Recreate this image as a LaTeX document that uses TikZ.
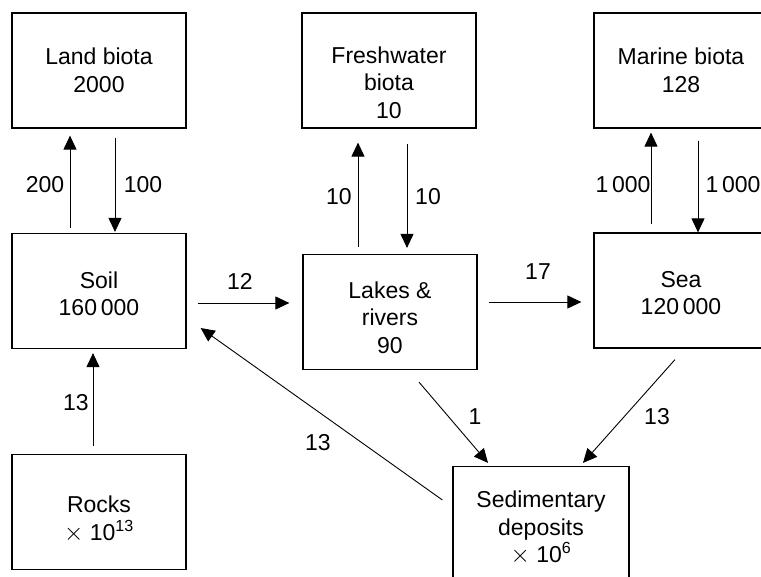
\documentclass[tikz,border=0pt]{standalone}
\usepackage{fontspec}
\setmainfont{Liberation Sans}
\usetikzlibrary{arrows.meta}

\begin{document}
\begin{tikzpicture}[x=1pt,y=-1pt,
		box/.style={draw, line width=1.2pt, minimum width=174pt, minimum height=115pt,
			inner sep=0pt, align=center, font=\fontsize{23}{27.5}\selectfont},
		flow/.style={line width=0.9pt, -{Triangle[length=14pt,width=13pt]}},
		lbl/.style={font=\fontsize{23}{27.5}\selectfont}]
			\clip (0,0) rectangle (761,577);

			% reservoirs
			\node[box] (land) at (99,70.5) {Land biota\\2000};
			\node[box, text height=96pt] (fresh) at (389,70.5) {Freshwater\\biota\\10};
			\node[box] (marine) at (681,70.5) {Marine biota\\128};
			\node[box, text height=50pt] (soil) at (99,291) {Soil\\160\,000};
			\node[box, text height=83pt] (lakes) at (390,312) {Lakes \&\\rivers\\90};
			\node[box, text height=49pt] (sea) at (681,290.5) {Sea\\120\,000};
			\node[box, text height=59pt] (rocks) at (99,512) {Rocks\\$\times$ 10\textsuperscript{13}};
			\node[box, text height=80pt, minimum width=176pt] (sed) at (541,524) {Sedimentary\\deposits\\$\times$ 10\textsuperscript{6}};

			% biota exchange
			\draw[flow, shorten <=5pt, shorten >=7pt] ([xshift=-29pt]soil.north) -- ([xshift=-29pt]land.south);
			\draw[flow, shorten <=9pt, shorten >=1pt] ([xshift=16pt]land.south) -- ([xshift=16pt]soil.north);
			\draw[flow, shorten <=7pt, shorten >=14pt] ([xshift=-32pt]lakes.north) -- ([xshift=-31pt]fresh.south);
			\draw[flow, shorten <=15pt, shorten >=6pt] ([xshift=18pt]fresh.south) -- ([xshift=17pt]lakes.north);
			\draw[flow, shorten <=8pt, shorten >=4pt] ([xshift=-30pt]sea.north) -- ([xshift=-30pt]marine.south);
			\draw[flow, shorten <=12pt] ([xshift=17pt]marine.south) -- ([xshift=17pt]sea.north);

			% run-off
			\draw[flow, shorten <=11pt, shorten >=13pt] ([yshift=-12pt]soil.east) -- ([yshift=9pt]lakes.west);
			\draw[flow, shorten <=11pt, shorten >=12pt] ([yshift=10pt]lakes.east) -- ([yshift=-11.5pt]sea.west);
			\draw[flow, shorten <=8pt, shorten >=4pt] ([xshift=-6pt]rocks.north) -- ([xshift=-6pt]soil.south);

			% sediments
			\draw[flow] ([xshift=29pt,yshift=-12pt]lakes.south) -- ([xshift=-53pt,yshift=3pt]sed.north);
			\draw[flow] ([xshift=-6pt,yshift=-11pt]sea.south) -- ([xshift=42pt,yshift=3pt]sed.north);
			\draw[flow] ([xshift=-10pt,yshift=24pt]sed.west) -- ([xshift=14pt,yshift=-37pt]soil.east);

			% fluxes
			\node[lbl] (f200) at (45,185) {200};
			\node[lbl] (f100) at (143,185) {100};
			\node[lbl] (f10up) at (339,197) {10};
			\node[lbl] (f10down) at (428,197) {10};
			\node[lbl] (f1000up) at (623,185) {1\,000};
			\node[lbl] (f1000down) at (733,185) {1\,000};
			\node[lbl] (f12) at (240,281) {12};
			\node[lbl] (f17) at (538,272) {17};
			\node[lbl] (f13rock) at (76,403) {13};
			\node[lbl] (f13sed) at (318,443) {13};
			\node[lbl] (f1) at (475,417) {1};
			\node[lbl] (f13sea) at (657,417) {13};
		\end{tikzpicture}
\end{document}
